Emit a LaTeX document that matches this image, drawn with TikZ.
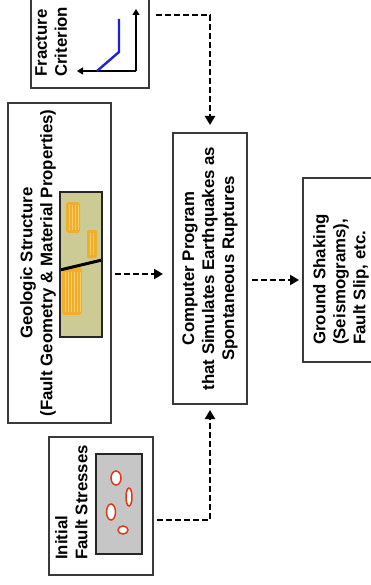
\documentclass[tikz,border=0pt]{standalone}
\usepackage{fontspec}
\setmainfont{Liberation Sans}
\usetikzlibrary{arrows.meta}
\definecolor{boxline}{HTML}{3A3A3A}
\definecolor{rock}{HTML}{CDCB95}
\definecolor{ore}{HTML}{EFAF2C}
\definecolor{orelight}{HTML}{F6CC66}
\definecolor{stressbg}{HTML}{C6C6C6}
\definecolor{crackred}{HTML}{E0381C}
\definecolor{critblue}{HTML}{1F1FE0}

\begin{document}
\begin{tikzpicture}[x=1pt,y=-1pt,
  box/.style={draw=boxline, line width=1.4pt, inner sep=0pt, outer sep=0pt},
  lbl/.style={font=\bfseries\fontsize{16.8}{20}\selectfont, rotate=90, inner sep=0pt},
  flow/.style={line width=2.8pt, dash pattern=on 6pt off 3pt,
    -{Triangle[length=9pt,width=10pt]}},
  inset/.style={draw=black!85, line width=1.4pt, inner sep=0pt, outer sep=0pt},
  crack/.style={draw=crackred, line width=1.5pt, fill=white},
]
\useasboundingbox (0,0) rectangle (370,585);

% ---- boxes -------------------------------------------------------------
\node[box, minimum width=118pt, minimum height=108pt] (frac) at (90,34) {};
\node[box, minimum width=103pt, minimum height=320pt] (geo) at (59.5,263) {};
\node[box, minimum width=104pt, minimum height=138pt] (init) at (101,506) {};
\node[box, minimum width=74pt, minimum height=271pt] (comp) at (210,268.5) {};
\node[box, minimum width=117pt, minimum height=184pt] (ground) at (361.5,270) {};

% ---- labels ------------------------------------------------------------
\node[lbl, align=left, anchor=north west] (fractxt) at (35,77) {Fracture\\Criterion};
\node[lbl, align=center, anchor=north] (geotxt) at (20,263)
  {Geologic Structure\\(Fault Geometry \& Material Properties)};
\node[lbl, align=left, anchor=north west] (inittxt) at (55,560) {Initial\\Fault Stresses};
\node[lbl, align=center] (comptxt) at (comp.center)
  {Computer Program\\that Simulates Earthquakes as\\Spontaneous Ruptures};
\node[lbl, align=left, anchor=north west] (groundtxt) at (313,345)
  {Ground Shaking\\(Seismograms),\\Fault Slip, etc.};

% ---- fracture criterion sketch -----------------------------------------
\coordinate (orig) at (136,71);
\draw[line width=1.4pt, -{Triangle[length=6pt,width=7pt]}] (orig) -- (136,9);
\draw[line width=1.4pt, -{Triangle[length=6pt,width=7pt]}] (orig) -- (77,71);
\draw[critblue, line width=2.4pt] (97,71) -- (119,52) -- (119,19);

% ---- geologic structure sketch -----------------------------------------
\node[inset, fill=rock, minimum width=42pt, minimum height=145pt] (geoimg) at (81,264.5) {};
\begin{scope}
  \fill[ore, rounded corners=3pt] (66,202) rectangle (80,233);
  \fill[ore, rounded corners=2pt] (87,230) rectangle (97,258);
  \fill[ore, rounded corners=3pt] (62,271) -- (82,266.5) -- (82,315) -- (62,315) -- cycle;
  \foreach \x in {69,72,75,78} \draw[orelight, line width=0.5pt] (\x,205) -- (\x,230);
  \foreach \x in {90,93} \draw[orelight, line width=0.5pt] (\x,233) -- (\x,255);
  \foreach \x in {65,68,71,74,77,80} \draw[orelight, line width=0.5pt] (\x,272) -- (\x,312);
\end{scope}
\draw[line width=3pt] (60,270) -- (102,260);
\draw[draw=black!85, line width=1.4pt] (geoimg.north west) rectangle (geoimg.south east);

% ---- initial stresses sketch -------------------------------------------
\node[inset, fill=stressbg, minimum width=46pt, minimum height=100pt] (stress) at (119,504) {};
\draw[crack] (116,478) ellipse [x radius=5, y radius=7];
\draw[crack] (129,497) ellipse [x radius=3, y radius=9];
\draw[crack] (111,512) ellipse [x radius=4.5, y radius=8];
\draw[crack] (123,530) ellipse [x radius=5, y radius=4];

% ---- connectors --------------------------------------------------------
\draw[flow, shorten <=7pt, shorten >=8pt] ([yshift=19pt]frac.east) -| (comp.north);
\draw[flow, shorten <=4pt, shorten >=10pt] ([yshift=-11pt]geo.east) -- ([yshift=-5.5pt]comp.west);
\draw[flow, shorten <=4pt, shorten >=6pt] ([yshift=-14pt]init.east) -| (comp.south);
\draw[flow, shorten <=5pt, shorten >=4pt] ([yshift=-11.5pt]comp.east) -- ([yshift=-10pt]ground.west);
\end{tikzpicture}
\end{document}
